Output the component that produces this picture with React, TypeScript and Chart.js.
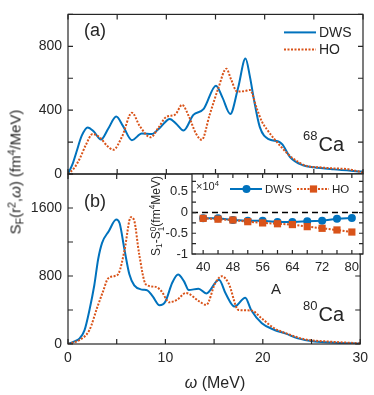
import React, { useEffect, useRef } from 'react';
import { Chart, registerables } from 'chart.js';
Chart.register(...registerables);

const W = 374;
const H = 395;
const BLUE = '#0072BD';
const ORANGE = '#D95319';
const AXIS = '#262626';
const FONT = "'Liberation Sans', Arial, Helvetica, sans-serif";

// ---- Panel (a): 68Ca ----
const omegaTopDWS = [0, 0.5, 0.85, 1.4, 2.0, 2.6, 3.35, 4.1, 4.9, 5.6, 6.5, 7.5, 8.5, 9.35, 10.35, 11.0, 11.75, 12.75, 13.8, 15.05, 15.7, 16.5, 17.3, 18.05, 18.5, 18.9, 19.5, 20.4, 21.4, 21.8, 22.6, 23.9, 25.0, 27.0, 30];
const sfTopDWS = [0, 68, 136, 240, 292, 268, 216, 285, 360, 300, 212, 253, 250, 290, 345, 315, 272, 370, 408, 553, 480, 376, 540, 724, 610, 470, 295, 218, 204, 185, 105, 55, 42, 29, 15];
const omegaTopHO = [0, 0.6, 1.2, 1.8, 2.5, 3.3, 4.0, 4.6, 5.5, 6.5, 7.3, 8.4, 9.2, 10.0, 10.9, 11.6, 12.3, 13.0, 13.6, 14.4, 15.3, 16.1, 16.6, 17.2, 18.0, 18.5, 19.2, 19.7, 20.2, 21.6, 22.9, 24.3, 25.5, 27.0, 28.5, 30];
const sfTopHO = [0, 35, 97, 180, 250, 225, 175, 152, 235, 384, 300, 230, 290, 358, 372, 433, 360, 255, 214, 370, 540, 660, 590, 516, 520, 526, 410, 331, 282, 175, 97, 50, 42, 35, 30, 9];

// ---- Panel (b): 80Ca ----
const omegaBotDWS = [0, 0.6, 1.2, 1.7, 2.2, 2.7, 3.1, 3.5, 4.2, 4.95, 5.3, 5.8, 6.3, 6.8, 7.6, 8.15, 8.7, 9.4, 10.0, 10.7, 11.3, 11.9, 12.4, 13.4, 14.2, 15.5, 16.2, 17.1, 18.2, 18.8, 19.9, 21.2, 22.3, 23.6, 25.3, 27.5, 30];
const sfBotDWS = [0, 27, 66, 164, 398, 691, 1000, 1190, 1330, 1465, 1420, 1110, 820, 690, 640, 630, 560, 455, 500, 720, 818, 740, 635, 650, 595, 755, 590, 440, 545, 400, 245, 165, 125, 66, 30, 15, 6];
const omegaBotHO = [0, 0.6, 1.2, 2.2, 3.0, 3.6, 4.1, 4.8, 5.2, 5.8, 6.45, 6.8, 7.3, 8.0, 9.0, 9.6, 10.4, 11.2, 12.1, 13.5, 14.2, 15.1, 15.8, 16.5, 17.5, 18.8, 19.9, 21.2, 22.6, 24.3, 27, 30];
const sfBotHO = [0, 20, 47, 164, 430, 620, 769, 800, 830, 1100, 1492, 1450, 1062, 700, 672, 620, 490, 520, 600, 500, 460, 711, 797, 711, 400, 395, 300, 184, 117, 55, 27, 8];

// ---- Inset: S1 - S1^0 (x10^4 fm^4 MeV) vs A ----
const massA = [40, 44, 48, 52, 56, 60, 64, 68, 72, 76, 80];
const dS1DWS = [-0.14, -0.14, -0.18, -0.2, -0.2, -0.23, -0.23, -0.21, -0.2, -0.15, -0.13];
const dS1HO = [-0.14, -0.16, -0.18, -0.22, -0.25, -0.27, -0.29, -0.34, -0.38, -0.42, -0.47];
const zeroLineA = [37, 83];
const zeroLineY = [0, 0];

// ---- Axes ----
const omegaTicks = [0, 5, 10, 15, 20, 25, 30];
const omegaLabels = [0, 10, 20, 30];
const topYTicks = [0, 200, 400, 600, 800, 1000];
const topYLabels = [0, 400, 800];
const botYTicks = [0, 400, 800, 1200, 1600, 2000];
const botYLabels = [0, 800, 1600];
const insetXTicks = [40, 44, 48, 52, 56, 60, 64, 68, 72, 76, 80];
const insetXLabels = [40, 48, 56, 64, 72, 80];
const insetYTicks = [-1, -0.75, -0.5, -0.25, 0, 0.25, 0.5, 0.75];
const insetYLabels = [-1, -0.5, 0, 0.5];

const pts = (xs: number[], ys: number[]) => xs.map((x, i) => ({ x, y: ys[i] }));

function scale(min: number, max: number, labels: number[], size: number, pad: number, fit: { width?: number; height?: number }, display = true) {
  return {
    type: 'linear',
    min,
    max,
    display,
    afterBuildTicks: (s: any) => {
      s.ticks = labels.map((v) => ({ value: v }));
    },
    afterFit: (s: any) => {
      if (fit.width !== undefined) s.width = fit.width;
      if (fit.height !== undefined) s.height = fit.height;
    },
    grid: { display: false, drawTicks: false },
    border: { display: false },
    ticks: {
      autoSkip: false,
      maxRotation: 0,
      padding: pad,
      color: AXIS,
      font: { family: FONT, size },
      callback: (v: any) => String(v),
    },
  };
}

function framePlugin(xTicks: number[], yTicks: number[], len: number, whiteBg: boolean, extra?: (chart: any) => void) {
  return {
    id: 'frameTicks',
    beforeDatasetsDraw(chart: any) {
      if (!whiteBg) return;
      const a = chart.chartArea;
      const ctx = chart.ctx;
      ctx.save();
      ctx.fillStyle = '#ffffff';
      ctx.fillRect(a.left, a.top, a.right - a.left, a.bottom - a.top);
      ctx.restore();
    },
    afterDatasetsDraw(chart: any) {
      const a = chart.chartArea;
      const ctx = chart.ctx;
      const xs = chart.scales.x;
      const ys = chart.scales.y;
      ctx.save();
      ctx.strokeStyle = AXIS;
      ctx.lineWidth = 1.2;
      ctx.setLineDash([]);
      ctx.beginPath();
      for (const v of xTicks) {
        const p = xs.getPixelForValue(v);
        ctx.moveTo(p, a.bottom);
        ctx.lineTo(p, a.bottom - len);
        ctx.moveTo(p, a.top);
        ctx.lineTo(p, a.top + len);
      }
      for (const v of yTicks) {
        const p = ys.getPixelForValue(v);
        ctx.moveTo(a.left, p);
        ctx.lineTo(a.left + len, p);
        ctx.moveTo(a.right, p);
        ctx.lineTo(a.right - len, p);
      }
      ctx.stroke();
      ctx.strokeRect(a.left, a.top, a.right - a.left, a.bottom - a.top);
      ctx.restore();
      if (extra) extra(chart);
    },
  };
}

function drawTopLegend(chart: any) {
  const ctx = chart.ctx;
  const a = chart.chartArea;
  const x0 = a.right - 79;
  const rows = [
    { label: 'DWS', color: BLUE, dash: [] as number[], y: a.top + 18 },
    { label: 'HO', color: ORANGE, dash: [2, 1.5], y: a.top + 35 },
  ];
  ctx.save();
  ctx.font = `14px ${FONT}`;
  ctx.textBaseline = 'middle';
  ctx.fillStyle = AXIS;
  for (const r of rows) {
    ctx.strokeStyle = r.color;
    ctx.lineWidth = 2;
    ctx.setLineDash(r.dash);
    ctx.beginPath();
    ctx.moveTo(x0, r.y);
    ctx.lineTo(x0 + 32, r.y);
    ctx.stroke();
    ctx.fillText(r.label, x0 + 35, r.y + 1);
  }
  ctx.restore();
}

function drawInsetLegend(chart: any) {
  const ctx = chart.ctx;
  const a = chart.chartArea;
  const y = a.top + 15;
  const items = [
    { label: 'DWS', color: BLUE, dash: [] as number[], x: a.left + 38, marker: 'circle' },
    { label: 'HO', color: ORANGE, dash: [2, 1.5], x: a.left + 105, marker: 'rect' },
  ];
  ctx.save();
  ctx.font = `11.5px ${FONT}`;
  ctx.textBaseline = 'middle';
  for (const it of items) {
    ctx.strokeStyle = it.color;
    ctx.lineWidth = 2;
    ctx.setLineDash(it.dash);
    ctx.beginPath();
    ctx.moveTo(it.x, y);
    ctx.lineTo(it.x + 32, y);
    ctx.stroke();
    ctx.setLineDash([]);
    ctx.fillStyle = it.color;
    const cx = it.x + 16.5;
    if (it.marker === 'circle') {
      ctx.beginPath();
      ctx.arc(cx, y, 4, 0, Math.PI * 2);
      ctx.fill();
    } else {
      ctx.fillRect(cx - 3.6, y - 3.6, 7.2, 7.2);
    }
    ctx.fillStyle = AXIS;
    ctx.fillText(it.label, it.x + 35, y + 1);
  }
  ctx.restore();
}

function mainLine(label: string, xs: number[], ys: number[], color: string, dash: number[]) {
  return {
    label,
    data: pts(xs, ys),
    borderColor: color,
    backgroundColor: color,
    borderWidth: 2,
    borderDash: dash,
    pointRadius: 0,
    cubicInterpolationMode: 'monotone',
    fill: false,
  };
}

const commonOpts = {
  responsive: false,
  maintainAspectRatio: false,
  animation: false,
  devicePixelRatio: 1,
  events: [],
  plugins: { legend: { display: false }, tooltip: { enabled: false }, title: { display: false } },
};

function topConfig(): any {
  return {
    type: 'line',
    data: {
      datasets: [
        mainLine('HO', omegaTopHO, sfTopHO, ORANGE, [2, 1.5]),
        mainLine('DWS', omegaTopDWS, sfTopDWS, BLUE, []),
      ],
    },
    options: {
      ...commonOpts,
      layout: { padding: { left: 0, top: 3, right: 11, bottom: 221 } },
      scales: {
        x: scale(0, 30, omegaLabels, 14, 6, {}, false),
        y: scale(0, 1000, topYLabels, 14, 6, { width: 68 }),
      },
    },
    plugins: [framePlugin(omegaTicks, topYTicks, 5, false, drawTopLegend)],
  };
}

function botConfig(): any {
  return {
    type: 'line',
    data: {
      datasets: [
        mainLine('HO', omegaBotHO, sfBotHO, ORANGE, [2, 1.5]),
        mainLine('DWS', omegaBotDWS, sfBotDWS, BLUE, []),
      ],
    },
    options: {
      ...commonOpts,
      layout: { padding: { left: 0, top: 174, right: 11, bottom: 0 } },
      scales: {
        x: scale(0, 30, omegaLabels, 14, 6, { height: 51 }),
        y: scale(0, 2000, botYLabels, 14, 6, { width: 68 }),
      },
    },
    plugins: [framePlugin(omegaTicks, botYTicks, 5, false)],
  };
}

function insetConfig(): any {
  return {
    type: 'line',
    data: {
      datasets: [
        {
          label: 'HO',
          data: pts(massA, dS1HO),
          borderColor: ORANGE,
          backgroundColor: ORANGE,
          borderWidth: 2,
          borderDash: [2, 1.5],
          pointStyle: 'rect',
          pointRadius: 5.1,
          pointBorderWidth: 0,
          tension: 0,
        },
        {
          label: 'DWS',
          data: pts(massA, dS1DWS),
          borderColor: BLUE,
          backgroundColor: BLUE,
          borderWidth: 2,
          pointStyle: 'circle',
          pointRadius: 4,
          pointBorderWidth: 0,
          tension: 0,
        },
        {
          label: 'zero',
          data: pts(zeroLineA, zeroLineY),
          borderColor: '#000000',
          borderWidth: 1.5,
          borderDash: [6, 4],
          pointRadius: 0,
          tension: 0,
        },
      ],
    },
    options: {
      ...commonOpts,
      layout: { padding: { left: 140, top: 174, right: 11, bottom: 100 } },
      scales: {
        x: scale(37, 83, insetXLabels, 13, 6, { height: 41 }),
        y: scale(-1, 0.93, insetYLabels, 13, 4, { width: 52 }),
      },
    },
    plugins: [framePlugin(insetXTicks, insetYTicks, 4, true, drawInsetLegend)],
  };
}

const canvasStyle: React.CSSProperties = { position: 'absolute', left: 0, top: 0, width: W, height: H };
const subS: React.CSSProperties = { fontSize: '0.7em', verticalAlign: '-0.25em', lineHeight: 0 };
const supS: React.CSSProperties = { fontSize: '0.7em', verticalAlign: '0.5em', lineHeight: 0 };
const nucSup: React.CSSProperties = { fontSize: 13, verticalAlign: '11px', lineHeight: 0, marginRight: 1 };

function Abs(props: { x: number; y: number; size: number; children: React.ReactNode; center?: boolean; rotate?: boolean }) {
  const { x, y, size, children, center, rotate } = props;
  let transform = 'translateY(-50%)';
  if (center) transform = 'translate(-50%, -50%)';
  if (rotate) transform = 'translate(-50%, -50%) rotate(-90deg)';
  return (
    <div
      style={{
        position: 'absolute',
        left: x,
        top: y,
        transform,
        fontSize: size,
        lineHeight: 1,
        whiteSpace: 'nowrap',
        fontFamily: FONT,
        color: AXIS,
      }}
    >
      {children}
    </div>
  );
}

export default function App() {
  const topRef = useRef<HTMLCanvasElement>(null);
  const botRef = useRef<HTMLCanvasElement>(null);
  const insRef = useRef<HTMLCanvasElement>(null);

  useEffect(() => {
    const charts: Chart[] = [];
    if (topRef.current) charts.push(new Chart(topRef.current, topConfig()));
    if (botRef.current) charts.push(new Chart(botRef.current, botConfig()));
    if (insRef.current) charts.push(new Chart(insRef.current, insetConfig()));
    return () => charts.forEach((c) => c.destroy());
  }, []);

  return (
    <div style={{ position: 'absolute', left: 0, top: 0, width: W, height: H, background: '#fff', overflow: 'hidden' }}>
      <canvas ref={topRef} width={W} height={H} style={canvasStyle} />
      <canvas ref={botRef} width={W} height={H} style={canvasStyle} />
      <canvas ref={insRef} width={W} height={H} style={canvasStyle} />

      <Abs x={84} y={30} size={18}>(a)</Abs>
      <Abs x={84} y={201} size={18}>(b)</Abs>

      <Abs x={303} y={144} size={20}>
        <span style={nucSup}>68</span>Ca
      </Abs>
      <Abs x={303} y={314} size={20}>
        <span style={nucSup}>80</span>Ca
      </Abs>

      <Abs x={15} y={172} size={15} rotate>
        S<span style={subS}>F</span>(r<span style={supS}>2</span>,<i>ω</i>) (fm<span style={supS}>4</span>/MeV)
      </Abs>
      <Abs x={215} y={383} size={16} center>
        <i>ω</i> (MeV)
      </Abs>

      <Abs x={196} y={186} size={11}>
        ×10<span style={supS}>4</span>
      </Abs>
      <Abs x={157} y={216} size={12} rotate>
        S<span style={subS}>1</span>-S
        <span style={{ display: 'inline-flex', flexDirection: 'column', fontSize: '0.7em', lineHeight: 1, verticalAlign: '4px' }}>
          <span>0</span>
          <span>1</span>
        </span>
        (fm<span style={supS}>4</span>MeV)
      </Abs>
      <Abs x={276} y={288} size={15} center>
        A
      </Abs>
    </div>
  );
}
